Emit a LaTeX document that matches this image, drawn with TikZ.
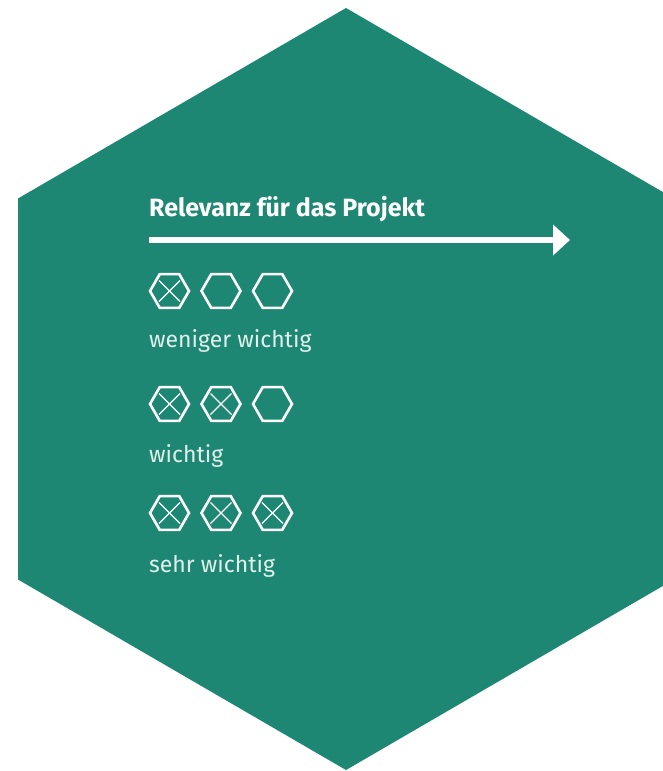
\documentclass[tikz,border=0pt]{standalone}
\usepackage{fontspec}
\setmainfont{Fira Sans}
\usetikzlibrary{arrows.meta,shapes.geometric}
\definecolor{hexgreen}{RGB}{29,135,116}
\definecolor{labelgray}{RGB}{225,240,236}
\tikzset{
  hexmark/.style={regular polygon, regular polygon sides=6, minimum size=39pt,
    inner sep=0pt, outer sep=0pt, draw=white, line width=2.6pt},
  xline/.style={draw=white, line width=1.3pt},
  title/.style={anchor=base west, inner sep=0pt, text=white, font=\fontsize{25}{29}\selectfont\bfseries},
  lbl/.style={anchor=base west, inner sep=0pt, text=labelgray, font=\fontsize{23}{27}\selectfont},
  bigarrow/.style={draw=white, line width=5.5pt, -{Triangle[length=17pt, width=30pt]}}
}
\begin{document}
\begin{tikzpicture}[x=1pt,y=-1pt]
\useasboundingbox (0,0) rectangle (663,771);
\clip (0,0) rectangle (663,771);
\fill[hexgreen] (346,8) -- (674,198.5) -- (674,579.5) -- (346,770) -- (18,579.5) -- (18,198.5) -- cycle;
\node[title] (t) at (149,216) {Relevanz für das Projekt};
\coordinate (a0) at (149,240);
\coordinate (a1) at (570,240);
\draw[bigarrow] (a0) -- (a1);
% rows
\foreach \r/\y/\n in {1/291/1, 2/404/2, 3/513/3}{
  \foreach \c/\x in {1/169.5, 2/221, 3/272.5}{
    \node[hexmark] (h\r\c) at (\x,\y) {};
    \ifnum\c>\n\else
      \draw[xline] (h\r\c.center) +(-10.5,-10.5) -- +(10.5,10.5);
      \draw[xline] (h\r\c.center) +(-10.5,10.5) -- +(10.5,-10.5);
    \fi
  }
}
\node[lbl] (l1) at (149,347) {weniger wichtig};
\node[lbl] (l2) at (149,462) {wichtig};
\node[lbl] (l3) at (149,572) {sehr wichtig};
\end{tikzpicture}
\end{document}
